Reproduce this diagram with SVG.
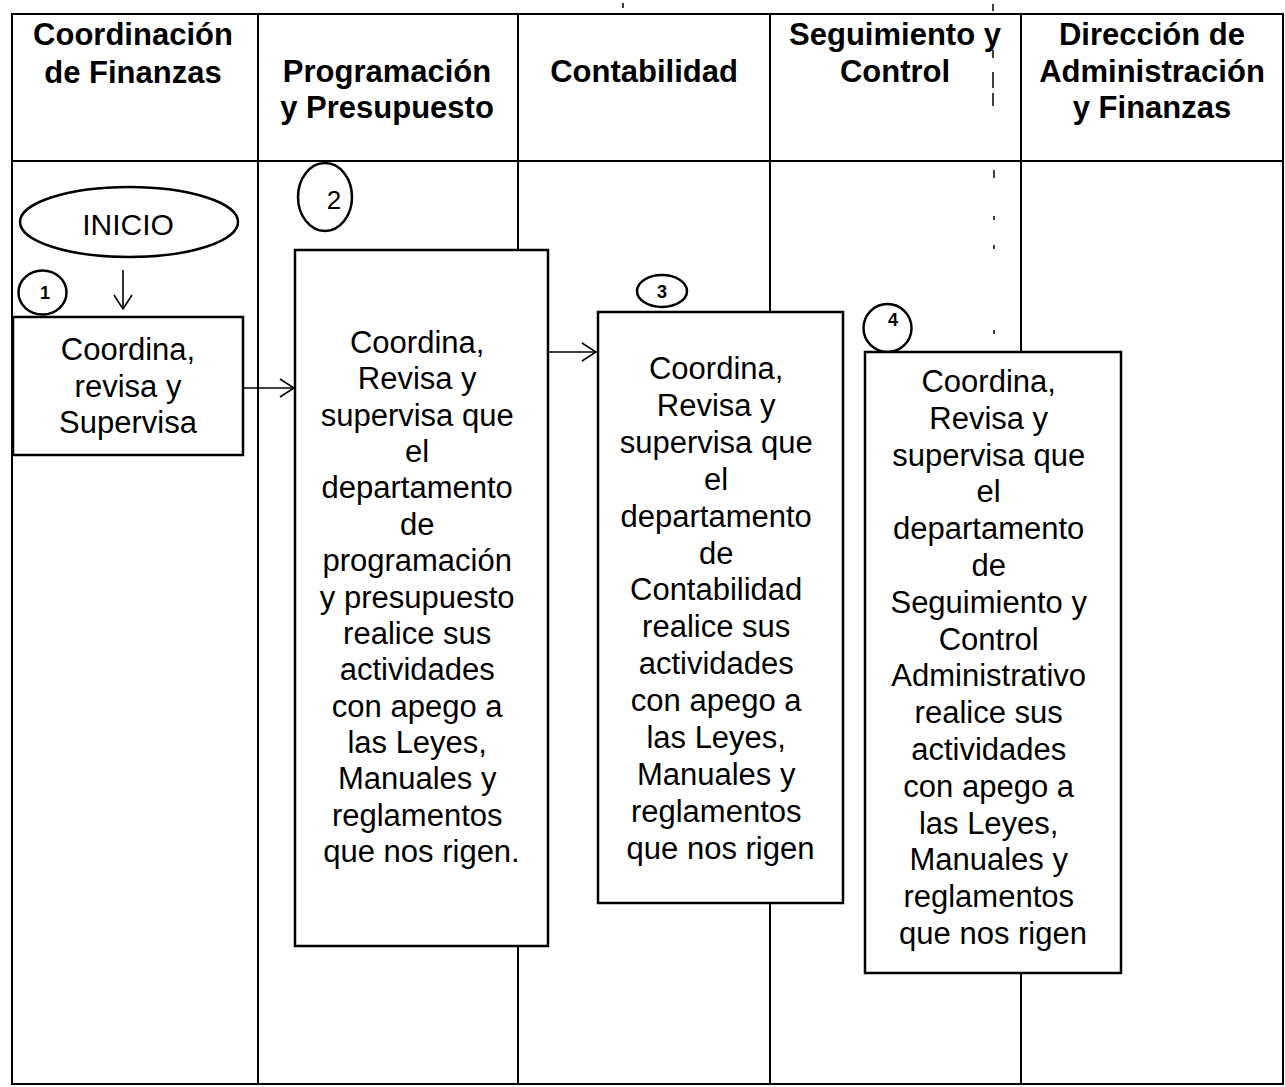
<svg xmlns="http://www.w3.org/2000/svg" width="1285" height="1087" viewBox="0 0 1285 1087">
<style>
.frame{fill:none;stroke:#000;stroke-width:2}
.box{fill:#fff;stroke:#000;stroke-width:2.5}
.oval{fill:#fff;stroke:#000;stroke-width:2.5}
.hd{font-family:"Liberation Sans",Arial,sans-serif;font-weight:bold;font-size:31px;fill:#000;text-anchor:middle}
.tx{font-family:"Liberation Sans",Arial,sans-serif;font-size:31px;fill:#000;text-anchor:middle}
.num{font-family:"Liberation Sans",Arial,sans-serif;font-size:18px;font-weight:bold;fill:#000;text-anchor:middle}
.con{fill:none;stroke:#000;stroke-width:1.6}
.art{stroke:#000;stroke-width:1.5}
</style>
<defs>
<marker id="open" viewBox="0 0 16 20" refX="15" refY="10" markerWidth="16" markerHeight="20" markerUnits="userSpaceOnUse" orient="auto">
<path d="M1,1 L15,10 L1,19" fill="none" stroke="#000" stroke-width="1.6"/>
</marker>
</defs>
<rect width="1285" height="1087" fill="#fff"/>
<g id="lanes">
<rect class="frame" x="12" y="14" width="1271" height="1070"/>
<line class="frame" x1="12" y1="161" x2="1283" y2="161"/>
<line class="frame" x1="258" y1="14" x2="258" y2="1084"/>
<line class="frame" x1="518" y1="14" x2="518" y2="1084"/>
<line class="frame" x1="770" y1="14" x2="770" y2="1084"/>
<line class="frame" x1="1021" y1="14" x2="1021" y2="1084"/>
<text class="hd" x="133" y="45">Coordinación</text>
<text class="hd" x="133" y="83">de Finanzas</text>
<text class="hd" x="387" y="82">Programación</text>
<text class="hd" x="387" y="118">y Presupuesto</text>
<text class="hd" x="644" y="82">Contabilidad</text>
<text class="hd" x="895" y="45">Seguimiento y</text>
<text class="hd" x="895" y="82">Control</text>
<text class="hd" x="1152" y="45">Dirección de</text>
<text class="hd" x="1152" y="82">Administración</text>
<text class="hd" x="1152" y="118">y Finanzas</text>
</g>
<g id="artifacts">
<line class="art" x1="993" y1="4" x2="993" y2="11"/>
<line class="art" x1="623" y1="3" x2="623" y2="8"/>
<line class="art" x1="993" y1="50" x2="993" y2="58"/>
<line class="art" x1="993" y1="72" x2="993" y2="88"/>
<line class="art" x1="993" y1="93" x2="993" y2="106"/>
<line class="art" x1="994" y1="170" x2="994" y2="178"/>
<line class="art" x1="994" y1="216" x2="994" y2="220"/>
<line class="art" x1="994" y1="245" x2="994" y2="249"/>
<line class="art" x1="994" y1="330" x2="994" y2="334"/>
</g>
<g id="connectors">
<line class="con" x1="123" y1="270" x2="123" y2="309" marker-end="url(#open)"/>
<line class="con" x1="243" y1="388" x2="294" y2="388" marker-end="url(#open)"/>
<line class="con" x1="549" y1="352" x2="596" y2="352" marker-end="url(#open)"/>
</g>
<g id="inicio">
<ellipse class="oval" cx="129" cy="222" rx="109" ry="35"/>
<text class="tx" x="128" y="235" style="font-size:30px">INICIO</text>
</g>
<g id="step1">
<ellipse class="oval" cx="42.5" cy="292.5" rx="24" ry="22"/>
<text class="num" x="45" y="299">1</text>
<rect class="box" x="13" y="317" width="230" height="138"/>
<text class="tx" x="128" y="360">Coordina,</text>
<text class="tx" x="128" y="397">revisa y</text>
<text class="tx" x="128" y="433">Supervisa</text>
</g>
<g id="step2">
<ellipse class="oval" cx="325" cy="197" rx="27" ry="34"/>
<text class="tx" x="334" y="209" style="font-size:26px">2</text>
<rect class="box" x="295" y="250" width="253" height="696"/>
<text class="tx" x="421.5" y="353">
<tspan x="421.5" dy="0">Coordina,</tspan>
<tspan x="421.5" dy="36.36">Revisa y</tspan>
<tspan x="421.5" dy="36.36">supervisa que</tspan>
<tspan x="421.5" dy="36.36">el</tspan>
<tspan x="421.5" dy="36.36">departamento</tspan>
<tspan x="421.5" dy="36.36">de</tspan>
<tspan x="421.5" dy="36.36">programación</tspan>
<tspan x="421.5" dy="36.36">y presupuesto</tspan>
<tspan x="421.5" dy="36.36">realice sus</tspan>
<tspan x="421.5" dy="36.36">actividades</tspan>
<tspan x="421.5" dy="36.36">con apego a</tspan>
<tspan x="421.5" dy="36.36">las Leyes,</tspan>
<tspan x="421.5" dy="36.36">Manuales y</tspan>
<tspan x="421.5" dy="36.36">reglamentos</tspan>
<tspan x="421.5" dy="36.36">que nos rigen.</tspan>
</text>
</g>
<g id="step3">
<ellipse class="oval" cx="662" cy="291" rx="25" ry="16"/>
<text class="num" x="662" y="298">3</text>
<rect class="box" x="598" y="312" width="245" height="591"/>
<text class="tx" x="720.5" y="379">
<tspan x="720.5" dy="0">Coordina,</tspan>
<tspan x="720.5" dy="36.9">Revisa y</tspan>
<tspan x="720.5" dy="36.9">supervisa que</tspan>
<tspan x="720.5" dy="36.9">el</tspan>
<tspan x="720.5" dy="36.9">departamento</tspan>
<tspan x="720.5" dy="36.9">de</tspan>
<tspan x="720.5" dy="36.9">Contabilidad</tspan>
<tspan x="720.5" dy="36.9">realice sus</tspan>
<tspan x="720.5" dy="36.9">actividades</tspan>
<tspan x="720.5" dy="36.9">con apego a</tspan>
<tspan x="720.5" dy="36.9">las Leyes,</tspan>
<tspan x="720.5" dy="36.9">Manuales y</tspan>
<tspan x="720.5" dy="36.9">reglamentos</tspan>
<tspan x="720.5" dy="36.9">que nos rigen</tspan>
</text>
</g>
<g id="step4">
<ellipse class="oval" cx="887.5" cy="328" rx="24" ry="24"/>
<text class="num" x="893" y="326">4</text>
<rect class="box" x="865" y="352" width="256" height="621"/>
<text class="tx" x="993" y="392">
<tspan x="993" dy="0">Coordina,</tspan>
<tspan x="993" dy="36.8">Revisa y</tspan>
<tspan x="993" dy="36.8">supervisa que</tspan>
<tspan x="993" dy="36.8">el</tspan>
<tspan x="993" dy="36.8">departamento</tspan>
<tspan x="993" dy="36.8">de</tspan>
<tspan x="993" dy="36.8">Seguimiento y</tspan>
<tspan x="993" dy="36.8">Control</tspan>
<tspan x="993" dy="36.8">Administrativo</tspan>
<tspan x="993" dy="36.8">realice sus</tspan>
<tspan x="993" dy="36.8">actividades</tspan>
<tspan x="993" dy="36.8">con apego a</tspan>
<tspan x="993" dy="36.8">las Leyes,</tspan>
<tspan x="993" dy="36.8">Manuales y</tspan>
<tspan x="993" dy="36.8">reglamentos</tspan>
<tspan x="993" dy="36.8">que nos rigen</tspan>
</text>
</g>
</svg>
